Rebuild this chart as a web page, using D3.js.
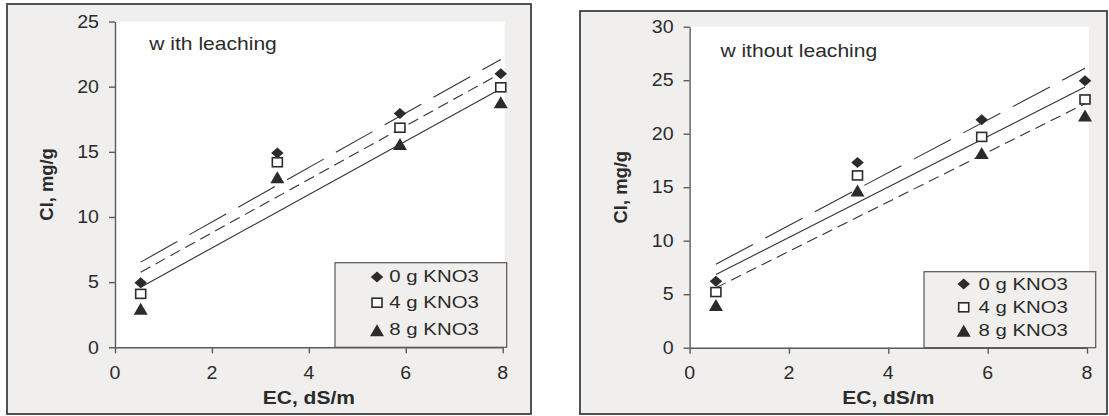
<!DOCTYPE html>
<html>
<head>
<meta charset="utf-8">
<script src="https://cdn.jsdelivr.net/npm/d3@7"></script>
<style>
  html, body { margin: 0; padding: 0; background: #ffffff; }
  svg { display: block; }
  text { font-family: "Liberation Sans", Arial, Helvetica, sans-serif; fill: #2b2b2b; }
</style>
</head>
<body>
<svg id="chart" width="1109" height="416"></svg>
<script>
// ---------------- data ----------------
const seriesNames = ["0 g KNO3", "4 g KNO3", "8 g KNO3"];
const xTicks = [0, 2, 4, 6, 8];

// panel 1: with leaching
const ecLeach   = [0.53, 3.35, 5.88, 7.96];
const clLeach0  = [4.95, 14.9, 17.95, 21.0];
const clLeach4  = [4.1, 14.2, 16.85, 19.95];
const clLeach8  = [2.95, 13.05, 15.6, 18.8];
const yTicksLeach = [0, 5, 10, 15, 20, 25];

// panel 2: without leaching
const ecNoLeach  = [0.53, 3.38, 5.88, 7.96];
const clNoLeach0 = [6.2, 17.3, 21.3, 24.95];
const clNoLeach4 = [5.2, 16.1, 19.7, 23.2];
const clNoLeach8 = [4.0, 14.7, 18.2, 21.7];
const yTicksNoLeach = [0, 5, 10, 15, 20, 25, 30];

// ---------------- drawing ----------------
const svg = d3.select("#chart");
const INK = "#2b2b2b";
const LONG = "42,14", SHORT = "11,6", SOLID = null;

function stretchText(g, x, y, str, opts) {
  const t = g.append("g")
    .attr("transform", `translate(${x},${y})` + (opts.rotate ? ` rotate(${opts.rotate})` : "") + ` scale(${opts.sx || 1},1)`)
    .append("text")
    .attr("x", 0).attr("y", 0)
    .attr("text-anchor", opts.anchor || "start")
    .style("font-size", opts.size + "px")
    .style("font-weight", opts.bold ? "bold" : "normal")
    .text(str);
  return t;
}

function marker(g, kind, cx, cy) {
  if (kind === 0) {
    const w = 12.5, h = 11;
    g.append("path")
      .attr("d", `M${cx},${cy - h / 2}L${cx + w / 2},${cy}L${cx},${cy + h / 2}L${cx - w / 2},${cy}Z`)
      .attr("fill", INK);
  } else if (kind === 1) {
    const w = 10, h = 9;
    g.append("rect")
      .attr("x", cx - w / 2).attr("y", cy - h / 2).attr("width", w).attr("height", h)
      .attr("fill", "#ffffff").attr("stroke", INK).attr("stroke-width", 1.6);
  } else {
    const w = 14, h = 12;
    g.append("path")
      .attr("d", `M${cx},${cy - h / 2}L${cx + w / 2},${cy + h / 2}L${cx - w / 2},${cy + h / 2}Z`)
      .attr("fill", INK);
  }
}

function regression(xs, ys) {
  const mx = d3.mean(xs), my = d3.mean(ys);
  let sxy = 0, sxx = 0;
  xs.forEach((x, i) => { sxy += (x - mx) * (ys[i] - my); sxx += (x - mx) * (x - mx); });
  const b = sxy / sxx;
  return { slope: b, intercept: my - b * mx };
}

function drawPanel(p) {
  const g = svg.append("g");
  // panel background + border
  g.append("rect")
    .attr("x", p.box[0]).attr("y", p.box[1])
    .attr("width", p.box[2] - p.box[0]).attr("height", p.box[3] - p.box[1])
    .attr("fill", "#f0efed").attr("stroke", "#404040").attr("stroke-width", 1.8);

  const x = d3.scaleLinear().domain([0, 8]).range(p.xRange);
  const y = d3.scaleLinear().domain([0, p.yMax]).range(p.yRange);

  // plot area
  g.append("rect")
    .attr("x", x(0)).attr("y", y(p.yMax))
    .attr("width", x(8) - x(0) + 2).attr("height", y(0) - y(p.yMax))
    .attr("fill", "#ffffff");

  // legend box
  g.append("rect")
    .attr("x", p.legend.x0).attr("y", p.legend.y0)
    .attr("width", p.legend.x1 - p.legend.x0).attr("height", y(0) - p.legend.y0)
    .attr("fill", "#f0efed").attr("stroke", "#555555").attr("stroke-width", 1.2);

  // axes
  const yAxis = d3.axisLeft(y).tickValues(p.yTicks).tickSize(6).tickSizeOuter(0).tickFormat("");
  const xAxis = d3.axisBottom(x).tickValues(xTicks).tickSize(6).tickSizeOuter(0).tickFormat("");
  const ya = g.append("g").attr("transform", `translate(${x(0)},0)`).call(yAxis);
  const xa = g.append("g").attr("transform", `translate(0,${y(0)})`).call(xAxis);
  [ya, xa].forEach(a => {
    a.selectAll("path,line").attr("stroke", "#5a5a5a").attr("stroke-width", 1.4);
  });

  // tick labels
  p.yTicks.forEach(v => {
    stretchText(g, x(0) - 16, y(v) + 6.2, String(v), { size: 17.5, sx: 1.12, anchor: "end" });
  });
  xTicks.forEach(v => {
    stretchText(g, x(v), y(0) + 31.5, String(v), { size: 17.5, sx: 1.12, anchor: "middle" });
  });

  // axis titles
  stretchText(g, (x(0) + x(8)) / 2, 403.5, "EC, dS/m", { size: 17.5, bold: true, sx: 1.2, anchor: "middle" });
  stretchText(g, p.yTitleX, (y(0) + y(p.yMax)) / 2, "Cl, mg/g", { size: 17.5, bold: true, sx: 1.05, anchor: "middle", rotate: -90 });

  // annotation
  stretchText(g, p.note.x, p.note.y, p.note.text, { size: 18, sx: 1.17, anchor: "start" });

  // trend lines
  p.series.forEach((ys, i) => {
    const r = regression(p.xs, ys);
    const x0 = d3.min(p.xs), x1 = d3.max(p.xs);
    const ln = g.append("line")
      .attr("x1", x(x0)).attr("y1", y(r.intercept + r.slope * x0))
      .attr("x2", x(x1)).attr("y2", y(r.intercept + r.slope * x1))
      .attr("stroke", "#333333").attr("stroke-width", 1.1);
    if (p.dashes[i]) ln.attr("stroke-dasharray", p.dashes[i]);
  });

  // markers
  p.series.forEach((ys, i) => {
    ys.forEach((v, j) => marker(g, i, x(p.xs[j]), y(v)));
  });

  // legend entries
  seriesNames.forEach((name, i) => {
    const cy = p.legend.rows[i];
    marker(g, i, p.legend.mx, cy);
    stretchText(g, p.legend.tx, cy + p.legend.dy, name, { size: 17, sx: 1.2, anchor: "start" });
  });
}

drawPanel({
  box: [7, 4, 531, 414],
  xRange: [115, 502.7],
  yRange: [347.3, 21.5],
  yMax: 25,
  yTicks: yTicksLeach,
  xs: ecLeach,
  series: [clLeach0, clLeach4, clLeach8],
  dashes: [LONG, SHORT, SOLID],
  yTitleX: 53,
  note: { x: 149.3, y: 50, text: "w ith leaching" },
  legend: { x0: 335, x1: 506.7, y0: 262.7, rows: [277, 302.7, 330.3], mx: 377, tx: 389.3, dy: 5 }
});

drawPanel({
  box: [580, 11, 1107, 414],
  xRange: [689.6, 1087],
  yRange: [347.7, 26.7],
  yMax: 30,
  yTicks: yTicksNoLeach,
  xs: ecNoLeach,
  series: [clNoLeach0, clNoLeach4, clNoLeach8],
  dashes: [LONG, SOLID, SHORT],
  yTitleX: 626.5,
  note: { x: 720.4, y: 57, text: "w ithout leaching" },
  legend: { x0: 924, x1: 1095.7, y0: 271.7, rows: [284, 307.3, 330.7], mx: 963.7, tx: 978.4, dy: 5.5 }
});
</script>
</body>
</html>
